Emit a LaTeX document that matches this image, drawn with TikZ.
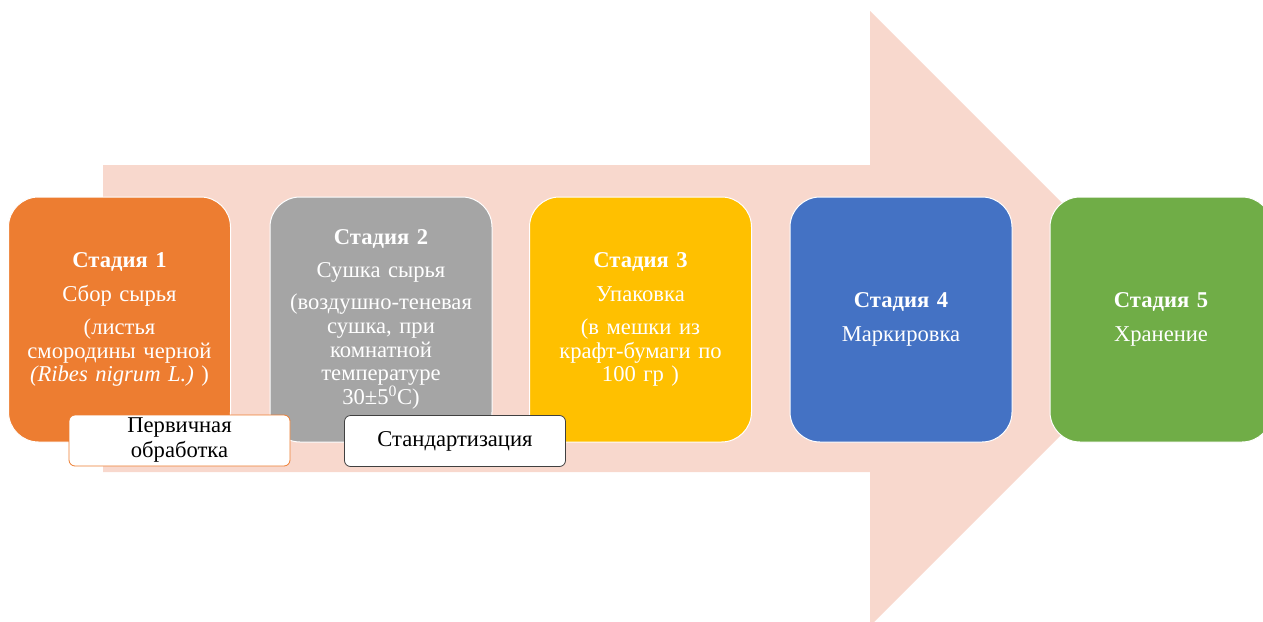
\documentclass[tikz,border=0pt]{standalone}
\usepackage{fontspec}
\setmainfont{Liberation Serif}
\definecolor{arrowpink}{HTML}{F8D8CD}
\definecolor{st1}{HTML}{ED7D31}
\definecolor{st2}{HTML}{A5A5A5}
\definecolor{st3}{HTML}{FFC000}
\definecolor{st4}{HTML}{4472C4}
\definecolor{st5}{HTML}{70AD47}
\definecolor{darkline}{HTML}{404040}
\begin{document}
\begin{tikzpicture}[x=1pt,y=-1pt,
  stagebox/.style={rectangle, rounded corners=30pt, draw=white, line width=1pt,
    minimum width=222pt, minimum height=245pt, text width=212pt, align=center,
    text=white, inner sep=0pt, font=\fontsize{22.6}{23.6}\selectfont},
  labelbox/.style={rectangle, rounded corners=6pt, fill=white, line width=0.8pt,
    minimum width=221pt, minimum height=51pt, text width=210pt, align=center,
    text=black, inner sep=0pt, font=\fontsize{22.6}{25}\selectfont}]
\useasboundingbox (0,0) rectangle (1263,621);
\fill[arrowpink] (103,165) -- (870,165) -- (870,11) -- (1177.5,318.5) -- (870,626) -- (870,472) -- (103,472) -- cycle;
\node[stagebox, fill=st1] (s1) at (119.5,319.5) {\textbf{Стадия 1}\\[10.5pt]Сбор сырья\\[9.5pt](листья\\смородины черной\\\textit{(Ribes nigrum L.)} )};
\node[stagebox, fill=st2] (s2) at (381,319.5) {\textbf{Стадия 2}\\[9.5pt]Сушка сырья\\[8.5pt](воздушно-теневая\\сушка, при\\комнатной\\температуре\\30±5\textsuperscript{0}С)};
\node[stagebox, fill=st3] (s3) at (640.5,319.5) {\textbf{Стадия 3}\\[10.5pt]Упаковка\\[9.5pt](в мешки из\\крафт-бумаги по\\100 гр )};
\node[stagebox, fill=st4] (s4) at (901,319.5) {\textbf{Стадия 4}\\[10.5pt]Маркировка};
\node[stagebox, fill=st5] (s5) at (1161,319.5) {\textbf{Стадия 5}\\[10.5pt]Хранение};
\node[labelbox, draw=st1] (l1) at (179.5,440.5) {Первичная\\обработка};
\node[labelbox, draw=darkline] (l2) at (455,441) {Стандартизация};
\end{tikzpicture}
\end{document}
